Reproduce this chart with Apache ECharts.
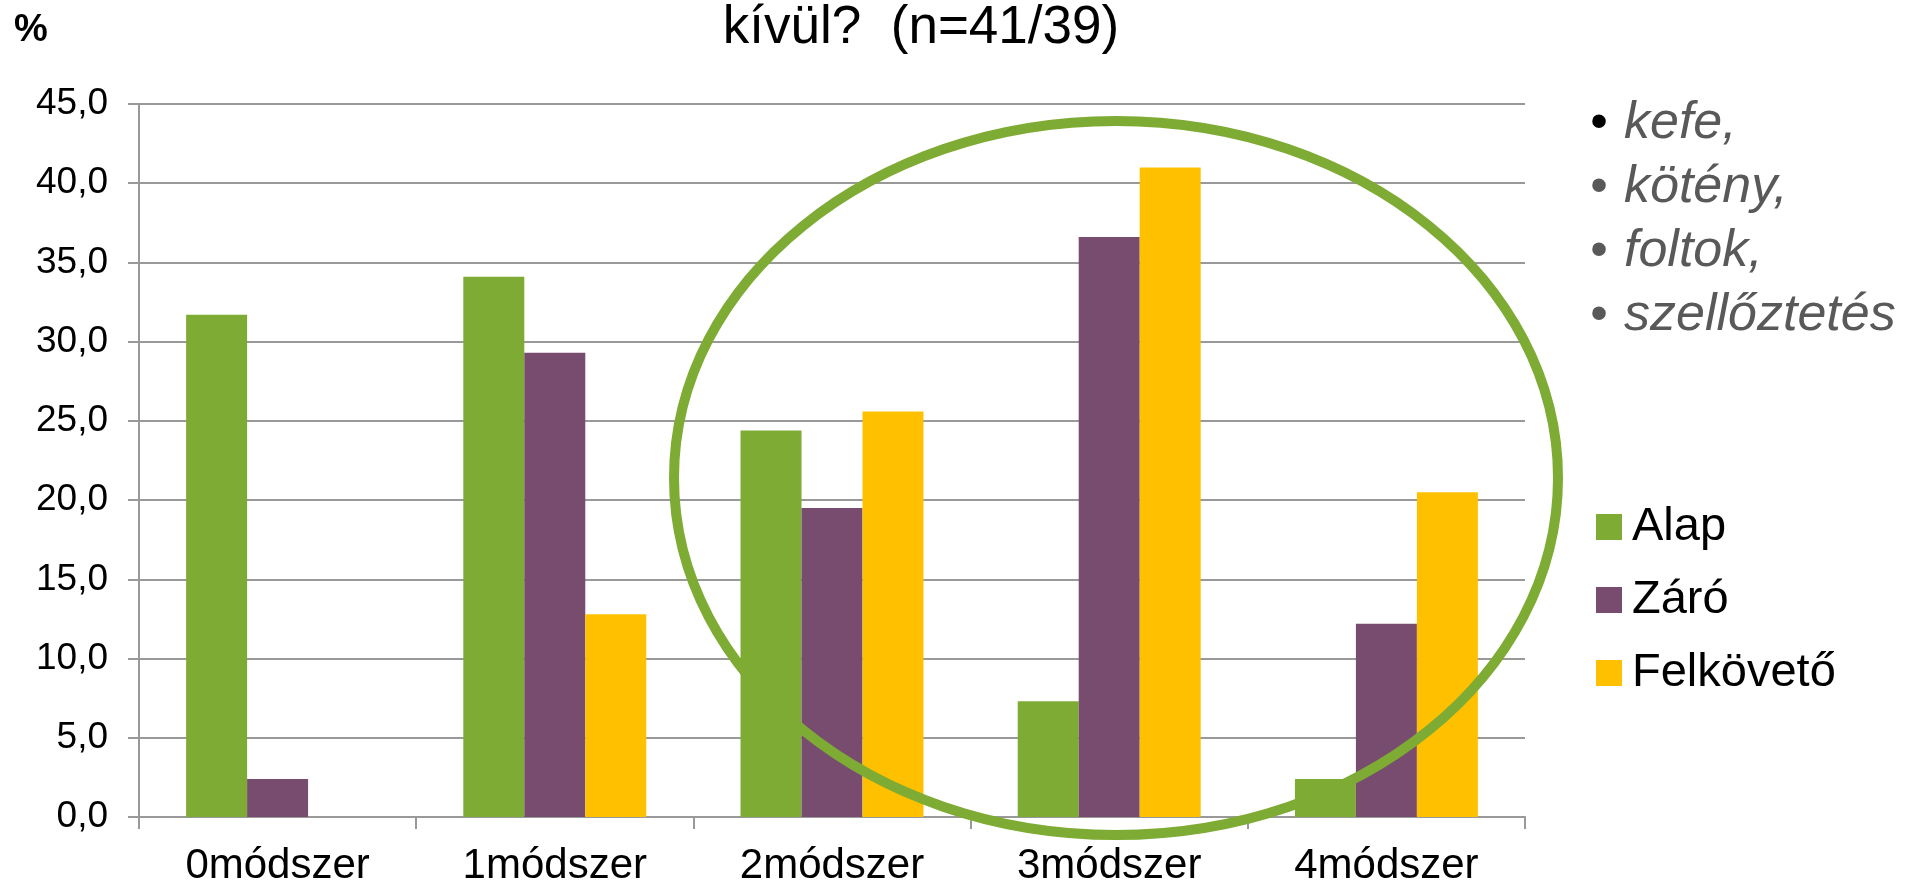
<!DOCTYPE html>
<html>
<head>
<meta charset="utf-8">
<script src="https://cdn.jsdelivr.net/npm/echarts@6/dist/echarts.min.js"></script>
<style>
html,body{margin:0;padding:0;background:#fff;}
#c{width:1908px;height:887px;}
</style>
</head>
<body>
<div id="c"></div>
<script>
const categories = ['0módszer', '1módszer', '2módszer', '3módszer', '4módszer'];
const alap = [31.7, 34.1, 24.4, 7.3, 2.4];
const zaro = [2.4, 29.3, 19.5, 36.6, 12.2];
const felkoveto = [0, 12.8, 25.6, 41.0, 20.5];
const seriesNames = ['Alap', 'Záró', 'Felkövető'];
const bullets = ['kefe,', 'kötény,', 'foltok,', 'szellőztetés'];
const titleText = 'kívül?  (n=41/39)';

const FONT = '"Liberation Sans", Arial, sans-serif';
const colors = ['#7EAB34', '#774C6E', '#FFC000'];

const chart = echarts.init(document.getElementById('c'), null, {renderer: 'canvas'});

const bulletGraphics = bullets.map((t, i) => ({
  type: 'group',
  children: [
    {type: 'text', style: {x: 1599, y: 124 + i * 64, text: '•', font: '50px ' + FONT, fill: i === 0 ? '#000' : '#595959', textAlign: 'center', textVerticalAlign: 'middle'}},
    {type: 'text', style: {x: 1624, y: 124 + i * 64, text: t, font: 'italic 52px ' + FONT, fill: '#595959', textAlign: 'left', textVerticalAlign: 'middle'}}
  ]
}));

const option = {
  animation: false,
  backgroundColor: '#fff',
  color: colors,
  textStyle: {fontFamily: FONT},
  grid: {left: 139, right: 383, top: 104, bottom: 68, containLabel: false},
  legend: {
    orient: 'vertical',
    left: 1591,
    top: 497,
    itemWidth: 26,
    itemHeight: 26,
    itemGap: 23,
    icon: 'rect',
    data: seriesNames,
    textStyle: {fontSize: 47, color: '#000', fontFamily: FONT, lineHeight: 50, padding: [0, 0, 0, 5]}
  },
  xAxis: {
    type: 'category',
    data: categories,
    axisLine: {lineStyle: {color: '#999', width: 2}},
    axisTick: {show: true, length: 12, lineStyle: {color: '#999', width: 2}},
    axisLabel: {fontSize: 42, color: '#000', margin: 28, fontFamily: FONT}
  },
  yAxis: {
    type: 'value',
    min: 0, max: 45, interval: 5,
    axisLine: {show: true, lineStyle: {color: '#999', width: 2}},
    axisTick: {show: true, length: 11, lineStyle: {color: '#999', width: 2}},
    splitLine: {lineStyle: {color: '#999', width: 2}},
    axisLabel: {fontSize: 37, color: '#000', margin: 31, fontFamily: FONT,
      formatter: v => v.toFixed(1).replace('.', ',')}
  },
  series: [
    {name: seriesNames[0], type: 'bar', data: alap, barGap: '0%', barCategoryGap: '34%', itemStyle: {color: colors[0]}},
    {name: seriesNames[1], type: 'bar', data: zaro, barGap: '0%', barCategoryGap: '34%', itemStyle: {color: colors[1]}},
    {name: seriesNames[2], type: 'bar', data: felkoveto, barGap: '0%', barCategoryGap: '34%', itemStyle: {color: colors[2]}}
  ],
  graphic: [
    {type: 'text', z: 100, style: {x: 921, y: 28, text: titleText, font: '53px ' + FONT, fill: '#000', textAlign: 'center', textVerticalAlign: 'middle'}},
    {type: 'text', z: 100, style: {x: 14, y: 31, text: '%', font: 'bold 38px ' + FONT, fill: '#000', textAlign: 'left', textVerticalAlign: 'middle'}},
    {type: 'ellipse', z: 100, shape: {cx: 1116, cy: 478, rx: 442, ry: 357}, style: {fill: 'none', stroke: '#7EAB34', lineWidth: 10}},
    ...bulletGraphics
  ]
};
chart.setOption(option);
</script>
</body>
</html>
